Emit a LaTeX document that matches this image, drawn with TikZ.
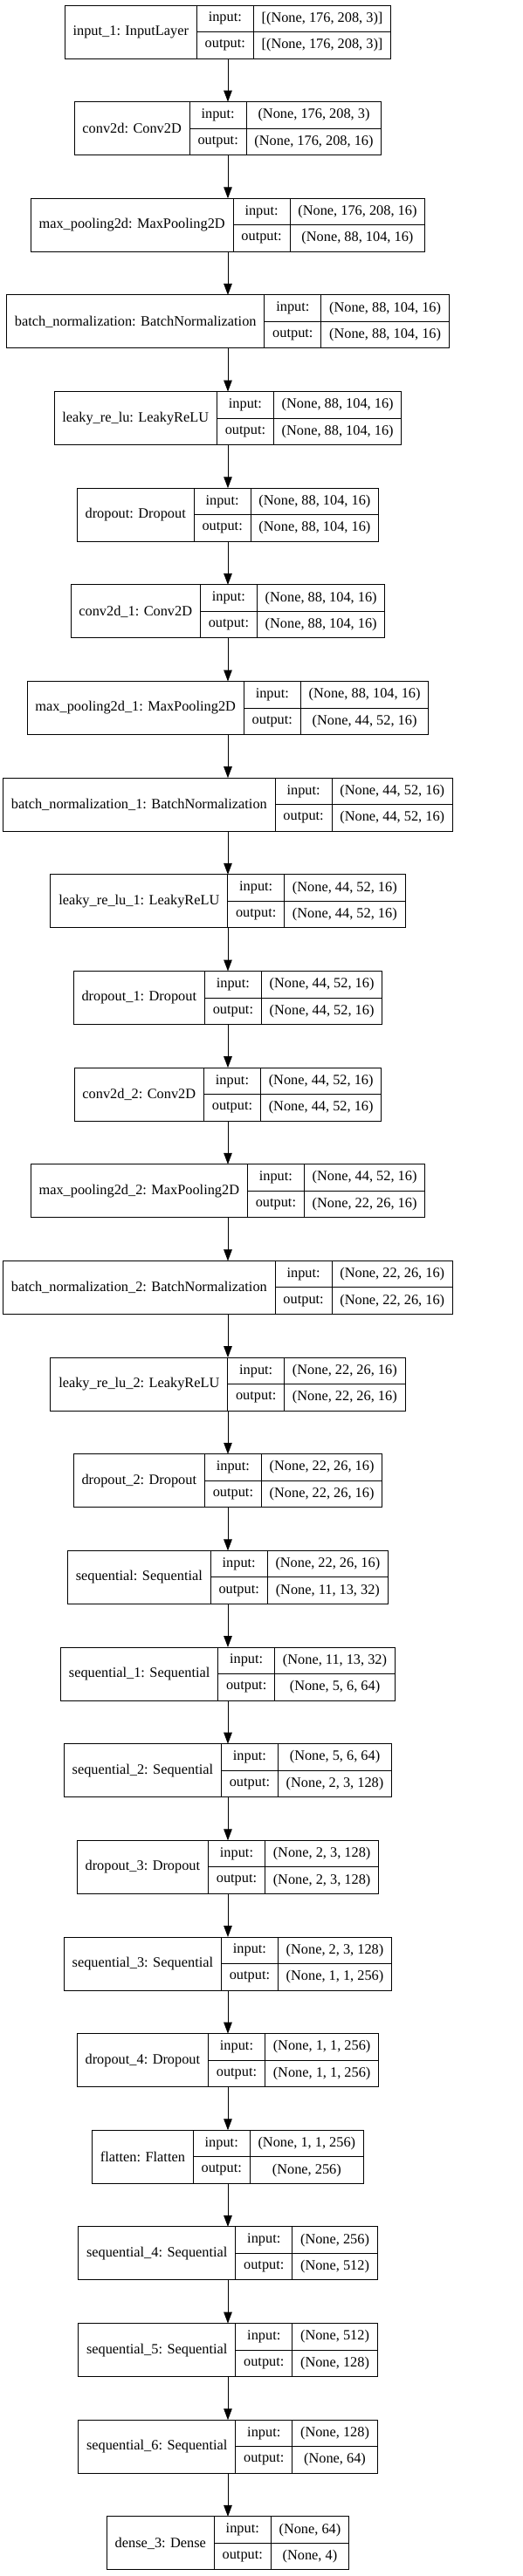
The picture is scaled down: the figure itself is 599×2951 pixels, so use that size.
\documentclass[tikz,border=0pt]{standalone}
\usepackage{fontspec}
\setmainfont{Liberation Serif}
\usetikzlibrary{arrows.meta}

\newlength\namew
\newlength\labw
\newlength\valw
\newlength\tmpw
\newcommand\lfont{\fontsize{16.33}{19.6}\selectfont}
\newcommand\cellpad{18.67pt}
% width of a text in the label font, also inside the picture
\newcommand\measure[2]{%
  \pgfinterruptpicture\setbox0=\hbox{\normalfont\lfont #2}\global#1=\wd0\endpgfinterruptpicture}

% one layer box: id, row, name, input shape, output shape
\newcommand\layer[5]{%
  \measure\namew{#3}\addtolength\namew{\cellpad}%
  \measure\labw{output:}\addtolength\labw{\cellpad}%
  \measure\valw{#4}\measure\tmpw{#5}%
  \ifdim\tmpw>\valw \valw=\tmpw\fi
  \addtolength\valw{\cellpad}%
  \pgfmathsetmacro\xl{261-(\namew+\labw+\valw)/2}%
  \pgfmathsetmacro\yt{-6-110.65*#2}%
  \node[namecell, minimum width=\namew, anchor=north west] (#1) at (\xl pt,\yt pt) {#3};
  \node[cell, minimum width=\labw, anchor=north west] (#1-li) at (#1.north east) {input:};
  \node[cell, minimum width=\labw, anchor=north west] (#1-lo) at (#1-li.south west) {output:};
  \node[cell, minimum width=\valw, anchor=north west] (#1-vi) at (#1-li.north east) {#4};
  \node[cell, minimum width=\valw, anchor=north west] (#1-vo) at (#1-vi.south west) {#5};
  \coordinate (#1-top) at (261pt,\yt pt);
  \coordinate (#1-bot) at (261pt,\yt pt-61pt);
}

\begin{document}
\begin{tikzpicture}[
    cell/.style={draw, line width=1pt, outer sep=0pt, inner sep=0pt,
      minimum height=30.5pt, font=\lfont},
    namecell/.style={cell, minimum height=61pt},
    edge/.style={line width=1pt, -{Triangle[length=13pt,width=9.5pt]}}
  ]
  \fill[white] (0,0) rectangle (599pt,-2951pt);

  \layer{input1}{0}{input\_1: InputLayer}{[(None, 176, 208, 3)]}{[(None, 176, 208, 3)]}
  \layer{conv}{1}{conv2d: Conv2D}{(None, 176, 208, 3)}{(None, 176, 208, 16)}
  \layer{pool}{2}{max\_pooling2d: MaxPooling2D}{(None, 176, 208, 16)}{(None, 88, 104, 16)}
  \layer{bnorm}{3}{batch\_normalization: BatchNormalization}{(None, 88, 104, 16)}{(None, 88, 104, 16)}
  \layer{leaky}{4}{leaky\_re\_lu: LeakyReLU}{(None, 88, 104, 16)}{(None, 88, 104, 16)}
  \layer{drop}{5}{dropout: Dropout}{(None, 88, 104, 16)}{(None, 88, 104, 16)}
  \layer{conv1}{6}{conv2d\_1: Conv2D}{(None, 88, 104, 16)}{(None, 88, 104, 16)}
  \layer{pool1}{7}{max\_pooling2d\_1: MaxPooling2D}{(None, 88, 104, 16)}{(None, 44, 52, 16)}
  \layer{bnorm1}{8}{batch\_normalization\_1: BatchNormalization}{(None, 44, 52, 16)}{(None, 44, 52, 16)}
  \layer{leaky1}{9}{leaky\_re\_lu\_1: LeakyReLU}{(None, 44, 52, 16)}{(None, 44, 52, 16)}
  \layer{drop1}{10}{dropout\_1: Dropout}{(None, 44, 52, 16)}{(None, 44, 52, 16)}
  \layer{conv2}{11}{conv2d\_2: Conv2D}{(None, 44, 52, 16)}{(None, 44, 52, 16)}
  \layer{pool2}{12}{max\_pooling2d\_2: MaxPooling2D}{(None, 44, 52, 16)}{(None, 22, 26, 16)}
  \layer{bnorm2}{13}{batch\_normalization\_2: BatchNormalization}{(None, 22, 26, 16)}{(None, 22, 26, 16)}
  \layer{leaky2}{14}{leaky\_re\_lu\_2: LeakyReLU}{(None, 22, 26, 16)}{(None, 22, 26, 16)}
  \layer{drop2}{15}{dropout\_2: Dropout}{(None, 22, 26, 16)}{(None, 22, 26, 16)}
  \layer{seq}{16}{sequential: Sequential}{(None, 22, 26, 16)}{(None, 11, 13, 32)}
  \layer{seq1}{17}{sequential\_1: Sequential}{(None, 11, 13, 32)}{(None, 5, 6, 64)}
  \layer{seq2}{18}{sequential\_2: Sequential}{(None, 5, 6, 64)}{(None, 2, 3, 128)}
  \layer{drop3}{19}{dropout\_3: Dropout}{(None, 2, 3, 128)}{(None, 2, 3, 128)}
  \layer{seq3}{20}{sequential\_3: Sequential}{(None, 2, 3, 128)}{(None, 1, 1, 256)}
  \layer{drop4}{21}{dropout\_4: Dropout}{(None, 1, 1, 256)}{(None, 1, 1, 256)}
  \layer{flat}{22}{flatten: Flatten}{(None, 1, 1, 256)}{(None, 256)}
  \layer{seq4}{23}{sequential\_4: Sequential}{(None, 256)}{(None, 512)}
  \layer{seq5}{24}{sequential\_5: Sequential}{(None, 512)}{(None, 128)}
  \layer{seq6}{25}{sequential\_6: Sequential}{(None, 128)}{(None, 64)}
  \layer{dense3}{26}{dense\_3: Dense}{(None, 64)}{(None, 4)}

  % connectors
  \foreach \a/\b in {input1/conv, conv/pool, pool/bnorm, bnorm/leaky, leaky/drop,
      drop/conv1, conv1/pool1, pool1/bnorm1, bnorm1/leaky1, leaky1/drop1,
      drop1/conv2, conv2/pool2, pool2/bnorm2, bnorm2/leaky2, leaky2/drop2,
      drop2/seq, seq/seq1, seq1/seq2, seq2/drop3, drop3/seq3, seq3/drop4,
      drop4/flat, flat/seq4, seq4/seq5, seq5/seq6, seq6/dense3}
    \draw[edge] (\a-bot) -- (\b-top);
\end{tikzpicture}
\end{document}
